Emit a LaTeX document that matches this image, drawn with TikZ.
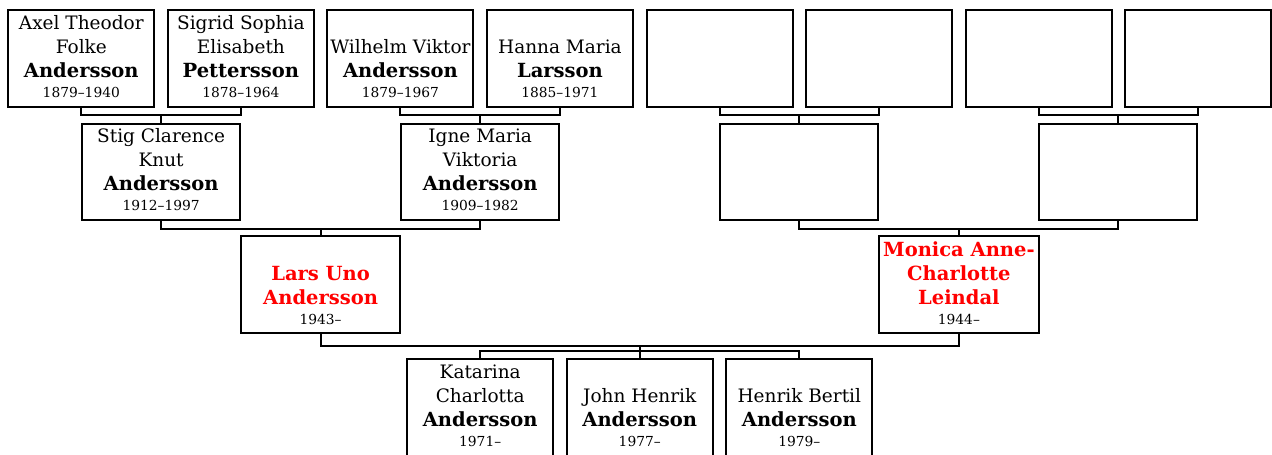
\documentclass[tikz,border=0pt]{standalone}
\usepackage{fontspec}
\setmainfont{DejaVu Serif}
\usetikzlibrary{calc}
\definecolor{pred}{RGB}{255,0,0}
\tikzset{
  pbox/.style={draw, line width=2pt, rectangle, inner sep=0pt, minimum width=146pt, minimum height=96.7pt},
  pboxw/.style={pbox, minimum width=158pt, minimum height=96pt},
  pboxc/.style={pbox, minimum width=159.3pt, minimum height=97.3pt},
  ptext/.style={anchor=south, align=center, inner sep=0pt, text depth=0pt, font=\fontsize{18.5}{24}\selectfont},
  conn/.style={line width=2pt},
}
\newcommand{\yr}[1]{\\[-4pt]{\fontsize{13.8}{15}\selectfont #1}}
\newcommand{\bn}[1]{{\fontsize{19.5}{24}\selectfont\bfseries #1}}
\newcommand{\rn}[1]{{\fontsize{19.5}{24}\selectfont\bfseries\color{pred}#1}}
\begin{document}
\begin{tikzpicture}[x=1pt,y=-1pt]
\useasboundingbox (0,0) rectangle (1272,455);
% generation 4
\node[pbox] (a1) at (81.3,58.65) {};
\node[pbox] (a2) at (240.85,58.65) {};
\node[pbox] (a3) at (400.4,58.65) {};
\node[pbox] (a4) at (559.95,58.65) {};
\node[pbox] (a5) at (719.5,58.65) {};
\node[pbox] (a6) at (879.05,58.65) {};
\node[pbox] (a7) at (1038.6,58.65) {};
\node[pbox] (a8) at (1198.15,58.65) {};
% generation 3
\node[pboxw] (b1) at (161.1,171.7) {};
\node[pboxw] (b2) at (480.2,171.7) {};
\node[pboxw] (b3) at (799.3,171.7) {};
\node[pboxw] (b4) at (1118.4,171.7) {};
% parents
\node[pboxc] (c1) at (320.6,284.65) {};
\node[pboxc] (c2) at (958.9,284.65) {};
% children
\node[pbox] (d1) at (480.2,407.8) {};
\node[pbox] (d2) at (639.75,407.8) {};
\node[pbox] (d3) at (799.3,407.8) {};
% texts
\node[ptext] (ta1) at ([yshift=10pt]a1.south) {Axel Theodor\\Folke\\\bn{Andersson}\yr{1879–1940}};
\node[ptext] (ta2) at ([yshift=10pt]a2.south) {Sigrid Sophia\\Elisabeth\\\bn{Pettersson}\yr{1878–1964}};
\node[ptext] (ta3) at ([yshift=10pt]a3.south) {Wilhelm Viktor\\\bn{Andersson}\yr{1879–1967}};
\node[ptext] (ta4) at ([yshift=10pt]a4.south) {Hanna Maria\\\bn{Larsson}\yr{1885–1971}};
\node[ptext] (tb1) at ([yshift=10pt]b1.south) {Stig Clarence\\Knut\\\bn{Andersson}\yr{1912–1997}};
\node[ptext] (tb2) at ([yshift=10pt]b2.south) {Igne Maria\\Viktoria\\\bn{Andersson}\yr{1909–1982}};
\node[ptext] (tc1) at ([yshift=10pt]c1.south) {\rn{Lars Uno}\\\rn{Andersson}\yr{1943–}};
\node[ptext] (tc2) at ([yshift=10pt]c2.south) {\rn{Monica Anne-}\\\rn{Charlotte}\\\rn{Leindal}\yr{1944–}};
\node[ptext] (td1) at ([yshift=10pt]d1.south) {Katarina\\Charlotta\\\bn{Andersson}\yr{1971–}};
\node[ptext] (td2) at ([yshift=10pt]d2.south) {John Henrik\\\bn{Andersson}\yr{1977–}};
\node[ptext] (td3) at ([yshift=10pt]d3.south) {Henrik Bertil\\\bn{Andersson}\yr{1979–}};
% junctions
\path ($(a1.south)!0.5!(a2.south)+(0,7)$) coordinate (ja1);
\path ($(a3.south)!0.5!(a4.south)+(0,7)$) coordinate (ja2);
\path ($(a5.south)!0.5!(a6.south)+(0,7)$) coordinate (ja3);
\path ($(a7.south)!0.5!(a8.south)+(0,7)$) coordinate (ja4);
\path ($(b1.south)!0.5!(b2.south)+(0,8)$) coordinate (jb1);
\path ($(b3.south)!0.5!(b4.south)+(0,8)$) coordinate (jb2);
\path ($(c1.south)!0.5!(c2.south)+(0,11.5)$) coordinate (jc);
\path (jc |- d2.north) ++(0,-7.3) coordinate (jd);
% connectors
\draw[conn] (a1.south) |- (ja1) -| (a2.south);
\draw[conn] (ja1) -- (ja1 |- b1.north);
\draw[conn] (a3.south) |- (ja2) -| (a4.south);
\draw[conn] (ja2) -- (ja2 |- b2.north);
\draw[conn] (a5.south) |- (ja3) -| (a6.south);
\draw[conn] (ja3) -- (ja3 |- b3.north);
\draw[conn] (a7.south) |- (ja4) -| (a8.south);
\draw[conn] (ja4) -- (ja4 |- b4.north);
\draw[conn] (b1.south) |- (jb1) -| (b2.south);
\draw[conn] (jb1) -- (jb1 |- c1.north);
\draw[conn] (b3.south) |- (jb2) -| (b4.south);
\draw[conn] (jb2) -- (jb2 |- c2.north);
\draw[conn] (c1.south) |- (jc) -| (c2.south);
\draw[conn] (jc) -- (jd);
\draw[conn] (d1.north) |- (jd) -| (d3.north);
\draw[conn] (jd) -- (d2.north);
\end{tikzpicture}
\end{document}
